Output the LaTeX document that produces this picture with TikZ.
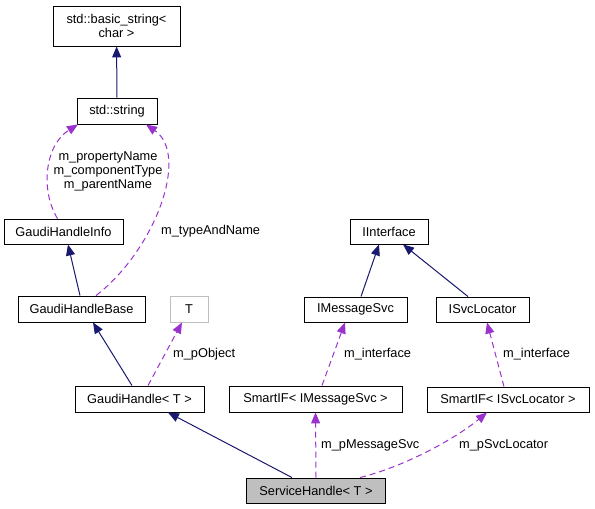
\documentclass[tikz,border=0pt]{standalone}
\usepackage{fontspec}
\setmainfont{Liberation Sans}
\usetikzlibrary{arrows.meta}

\definecolor{edgenavy}{HTML}{191970}
\definecolor{edgepurple}{HTML}{9A32CD}
\definecolor{boxgray}{HTML}{BFBFBF}

\tikzset{
	cls/.style={draw=black,fill=white,line width=0.9pt,inner sep=0pt,
		minimum height=26pt,align=center,font=\fontsize{12.8}{14}\selectfont},
	inherit/.style={draw=edgenavy,line width=1pt,-{Triangle[length=11pt,width=9pt]}},
	usage/.style={draw=edgepurple,line width=1pt,dash pattern=on 6pt off 4pt,
		-{Triangle[length=11pt,width=9pt]}},
	lbl/.style={inner sep=0pt,align=center,font=\fontsize{12.8}{14}\selectfont},
}

\begin{document}
\begin{tikzpicture}[x=1pt,y=-1pt]
		
		\useasboundingbox (0,0) rectangle (595,509);
		
		% Classes
		\node[cls,minimum width=127pt,minimum height=40pt] (basicstring) at (116.5,26) {std::basic\_string<\\char >};
		\node[cls,minimum width=80pt] (stdstring) at (117,111) {std::string};
		\node[cls,minimum width=119pt,minimum height=25pt] (info) at (63.5,231.5) {GaudiHandleInfo};
		\node[cls,minimum width=127pt] (base) at (81.5,309) {GaudiHandleBase};
		\node[cls,draw=boxgray,minimum width=38pt] (T) at (189,309) {T};
		\node[cls,minimum width=129pt] (handle) at (139.5,399) {GaudiHandle< T >};
		\node[cls,minimum width=173pt] (smartmsg) at (315.5,399) {SmartIF< IMessageSvc >};
		\node[cls,minimum width=162pt,minimum height=25pt] (smartsvc) at (508,399.5) {SmartIF< ISvcLocator >};
		\node[cls,minimum width=78pt,minimum height=25pt] (iinterface) at (389,231.5) {IInterface};
		\node[cls,minimum width=103pt,minimum height=25pt] (imsg) at (355.5,309.5) {IMessageSvc};
		\node[cls,minimum width=93pt,minimum height=25pt] (isvc) at (482.5,309.5) {ISvcLocator};
		\node[cls,fill=boxgray,minimum width=139pt,minimum height=25pt] (service) at (316,490.5) {ServiceHandle< T >};
		
		% Inheritance
		\draw[inherit] (stdstring) -- (basicstring);
		\draw[inherit] ([xshift=-1.5pt]base.north) -- ([xshift=4.5pt]info.south);
		\draw[inherit] ([xshift=-7.5pt]handle.north) -- ([xshift=11.5pt]base.south);
		\draw[inherit] ([xshift=-24pt]service.north) -- ([xshift=28.5pt]handle.south);
		\draw[inherit] ([xshift=5.5pt]imsg.north) -- ([xshift=-10pt]iinterface.south);
		\draw[inherit] ([xshift=-14.5pt]isvc.north) -- ([xshift=14pt]iinterface.south);
		
		% Usage (members)
		\draw[usage] ([xshift=-6pt]info.north) .. controls (40,190) and (45,145) .. ([xshift=-39pt]stdstring.south);
		\node[lbl] (lblnames) at (108,171) {m\_propertyName\\m\_componentType\\m\_parentName};
		
		\draw[usage] ([xshift=14.5pt]base.north) .. controls (155,250) and (190,155) .. ([xshift=29pt]stdstring.south);
		\node[lbl,anchor=west] (lbltype) at (161,231) {m\_typeAndName};
		
		\draw[usage] ([xshift=8.5pt]handle.north) -- ([xshift=-7pt]T.south);
		\node[lbl,anchor=west] (lblobject) at (173,354) {m\_pObject};
		
		\draw[usage] (service.north) -- (smartmsg.south);
		\node[lbl,anchor=west] (lblmsgsvc) at (321,445) {m\_pMessageSvc};
		
		\draw[usage] ([xshift=44pt]service.north) .. controls (410,465) and (460,435) .. ([xshift=-21pt]smartsvc.south);
		\node[lbl,anchor=west] (lblsvcloc) at (459,445) {m\_pSvcLocator};
		
		\draw[usage] ([xshift=6.5pt]smartmsg.north) -- ([xshift=-10.5pt]imsg.south);
		\node[lbl,anchor=west] (lblintmsg) at (344,354) {m\_interface};
		
		\draw[usage] ([xshift=-4pt]smartsvc.north) -- ([xshift=4.5pt]isvc.south);
		\node[lbl,anchor=west] (lblintsvc) at (503,354) {m\_interface};
		
	\end{tikzpicture}
\end{document}
